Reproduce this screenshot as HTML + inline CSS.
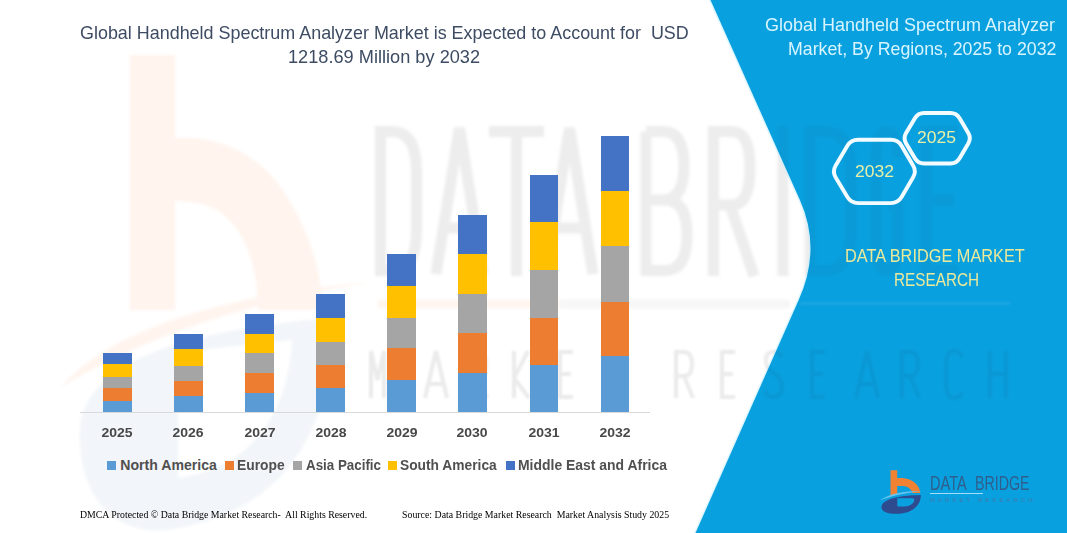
<!DOCTYPE html>
<html><head><meta charset="utf-8">
<style>
html,body{margin:0;padding:0;}
body{width:1067px;height:533px;overflow:hidden;background:#fff;position:relative;font-family:"Liberation Sans",sans-serif;}
.t{position:absolute;white-space:nowrap;line-height:1;transform-origin:0 0;}
.bar{position:absolute;width:28.6px;}
.na{background:#5B9BD5}.eu{background:#ED7D31}.ap{background:#A5A5A5}.sa{background:#FFC000}.me{background:#4472C4}
.yr{position:absolute;width:60px;text-align:center;top:426.2px;font-weight:bold;font-size:13.6px;color:#484848;line-height:1;white-space:nowrap;transform:scaleX(1.03);}
.lg{position:absolute;font-weight:bold;font-size:14.1px;color:#505050;line-height:1;white-space:nowrap;transform-origin:0 0;top:458.1px;}
.sq{position:absolute;width:8.6px;height:8.6px;top:461.1px;}
.ft{position:absolute;font-family:"Liberation Serif",serif;font-size:9.6px;color:#000;line-height:1;white-space:nowrap;transform-origin:0 0;}
</style></head>
<body>
<!-- watermark -->
<svg width="1067" height="533" style="position:absolute;left:0;top:0" viewBox="0 0 1067 533">
  <defs><filter id="bl" filterUnits="userSpaceOnUse" x="0" y="0" width="1067" height="533"><feGaussianBlur stdDeviation="1.8"/></filter><filter id="bl2" filterUnits="userSpaceOnUse" x="0" y="0" width="1067" height="533"><feGaussianBlur stdDeviation="1"/></filter></defs>
  <g fill="#FFF4EE" filter="url(#bl)">
    <path d="M60 388 C110 330 220 295 372 282 C230 305 130 345 60 388 Z"/>
    <path d="M130 55 H175 V138 C215 136 262 150 292 205 C312 240 322 275 322 310 H258 C258 260 240 215 205 205 C195 202 185 201 175 201 V310 H130 Z"/>
  </g>
  <g fill="#F2F5F9" filter="url(#bl)">
    <path fill-rule="evenodd" d="M80 430 C84 360 190 330 330 318 C336 420 290 515 165 530 C110 535 77 490 80 430 Z M178 352 L292 340 C288 420 245 470 178 478 Z"/>
  </g>
  <path d="M378 304 H560" stroke="#FFF6F0" stroke-width="9" filter="url(#bl)"/><path d="M560 304 H790" stroke="#F7F7F8" stroke-width="9" filter="url(#bl)"/>
  <g fill="none" stroke="#C8C8C8" stroke-opacity="0.16" stroke-width="11" filter="url(#bl)">
    <path d="M380.5 131.5 V270.5 H392 Q416.5 270.5 416.5 230 V172 Q416.5 131.5 392 131.5 Z"/>
    <path d="M436 274 L459.5 128 L483 274 M443 228 H476"/>
    <path d="M489 131.5 H544 M516.5 131.5 V276"/>
    <path d="M546 274 L569.5 128 L593 274 M553 228 H586"/>
    <path d="M646 131.5 V270.5 H665 Q687 270.5 687 235 Q687 200 665 200 H646 M663 200 Q684 200 684 165.75 Q684 131.5 663 131.5 H646"/>
    <path d="M713.5 276 V131.5 H732 Q750 131.5 750 168 Q750 205 732 205 H713.5 M730 205 L754 276"/>
    <path d="M783 126 V276"/>
    <path d="M810 131.5 V270.5 H826 Q851 270.5 851 230 V172 Q851 131.5 826 131.5 Z"/>
    <path d="M898 158 Q898 131.5 887 131.5 Q876 131.5 876 160 V242 Q876 270.5 887 270.5 Q898 270.5 898 242 V205 H888"/>
    <path d="M958 131.5 H926 V270.5 H958 M926 200 H954"/>
  </g>
  <g fill="none" stroke="#C8C8C8" stroke-opacity="0.13" stroke-width="4" filter="url(#bl2)">
    <path d="M371 398 V351 L377.5 380 L384 351 V398"/>
    <path d="M425 398 L436 351 L447 398 M429 384 H443"/>
    <path d="M470 398 V352 H478 Q486 352 486 364 Q486 376 478 376 H470 M478 376 L487 398"/>
    <path d="M514 351 V398 M528 351 L514 378 L529 398"/>
    <path d="M573 352 H560 V397 H573 M560 374 H571"/>
    <path d="M603 352 H627 M615 352 V398"/>
    <path d="M676 398 V352 H684 Q692 352 692 364 Q692 376 684 376 H676 M684 376 L693 398"/>
    <path d="M735 352 H722 V397 H735 M722 374 H733"/>
    <path d="M782 357 Q778 351 772 352 Q765 353 766 362 Q767 370 775 374 Q783 379 782 388 Q781 397 773 397 Q767 397 765 391"/>
    <path d="M825 352 H812 V397 H825 M812 374 H823"/>
    <path d="M856 398 L867 351 L878 398 M860 384 H874"/>
    <path d="M902 398 V352 H910 Q918 352 918 364 Q918 376 910 376 H902 M910 376 L919 398"/>
    <path d="M962 357 Q960 351 954 351 Q946 351 946 365 V384 Q946 398 954 398 Q960 398 962 392"/>
    <path d="M990 351 V398 M1006 351 V398 M990 374 H1006"/>
  </g>
</svg>
<!-- blue panel -->
<svg width="1067" height="533" style="position:absolute;left:0;top:0" viewBox="0 0 1067 533">
  <path d="M710.5 0 L1067 0 L1067 533 L695.5 533 L798.7 300 Q821.7 248.8 799.9 200 Z" fill="none" stroke="#DDF6FF" stroke-width="3"/>
  <path d="M710.5 0 L1067 0 L1067 533 L695.5 533 L798.7 300 Q821.7 248.8 799.9 200 Z" fill="#09A0DF"/>
</svg>



<!-- watermark over blue -->
<svg width="1067" height="533" style="position:absolute;left:0;top:0" viewBox="0 0 1067 533">
  <path d="M800 303.5 H1010" stroke="#FFFFFF" stroke-opacity="0.07" stroke-width="3" filter="url(#bl2)"/>
  <g fill="none" stroke="#000000" stroke-opacity="0.035" stroke-width="11" filter="url(#bl)">
    <path d="M380.5 131.5 V270.5 H392 Q416.5 270.5 416.5 230 V172 Q416.5 131.5 392 131.5 Z"/>
    <path d="M436 274 L459.5 128 L483 274 M443 228 H476"/>
    <path d="M489 131.5 H544 M516.5 131.5 V276"/>
    <path d="M546 274 L569.5 128 L593 274 M553 228 H586"/>
    <path d="M646 131.5 V270.5 H665 Q687 270.5 687 235 Q687 200 665 200 H646 M663 200 Q684 200 684 165.75 Q684 131.5 663 131.5 H646"/>
    <path d="M713.5 276 V131.5 H732 Q750 131.5 750 168 Q750 205 732 205 H713.5 M730 205 L754 276"/>
    <path d="M783 126 V276"/>
    <path d="M810 131.5 V270.5 H826 Q851 270.5 851 230 V172 Q851 131.5 826 131.5 Z"/>
    <path d="M898 158 Q898 131.5 887 131.5 Q876 131.5 876 160 V242 Q876 270.5 887 270.5 Q898 270.5 898 242 V205 H888"/>
    <path d="M958 131.5 H926 V270.5 H958 M926 200 H954"/>
  </g>
  <g fill="none" stroke="#000000" stroke-opacity="0.05" stroke-width="4" filter="url(#bl2)">
    <path d="M371 398 V351 L377.5 380 L384 351 V398"/>
    <path d="M425 398 L436 351 L447 398 M429 384 H443"/>
    <path d="M470 398 V352 H478 Q486 352 486 364 Q486 376 478 376 H470 M478 376 L487 398"/>
    <path d="M514 351 V398 M528 351 L514 378 L529 398"/>
    <path d="M573 352 H560 V397 H573 M560 374 H571"/>
    <path d="M603 352 H627 M615 352 V398"/>
    <path d="M676 398 V352 H684 Q692 352 692 364 Q692 376 684 376 H676 M684 376 L693 398"/>
    <path d="M735 352 H722 V397 H735 M722 374 H733"/>
    <path d="M782 357 Q778 351 772 352 Q765 353 766 362 Q767 370 775 374 Q783 379 782 388 Q781 397 773 397 Q767 397 765 391"/>
    <path d="M825 352 H812 V397 H825 M812 374 H823"/>
    <path d="M856 398 L867 351 L878 398 M860 384 H874"/>
    <path d="M902 398 V352 H910 Q918 352 918 364 Q918 376 910 376 H902 M910 376 L919 398"/>
    <path d="M962 357 Q960 351 954 351 Q946 351 946 365 V384 Q946 398 954 398 Q960 398 962 392"/>
    <path d="M990 351 V398 M1006 351 V398 M990 374 H1006"/>
  </g>
</svg>

<!-- title -->
<div class="t" id="t1" style="left:80px;top:24.2px;font-size:18.6px;color:#3D4C63;transform:scaleX(0.964)">Global Handheld Spectrum Analyzer Market is Expected to Account for&nbsp; USD</div>
<div class="t" id="t2" style="left:288px;top:47.7px;font-size:18.6px;color:#3D4C63;transform:scaleX(0.978)">1218.69 Million by 2032</div>

<!-- axis -->
<div style="position:absolute;left:80px;top:411.5px;width:570px;height:1px;background:#D9D9D9"></div>

<!-- bars -->
<!--BARS-->
<div class="bar" style="left:103.0px;top:353.1px;height:58.5px;background:linear-gradient(to bottom,#4472C4 0.0px 11.3px,#FFC000 11.3px 23.8px,#A5A5A5 23.8px 35.1px,#ED7D31 35.1px 47.5px,#5B9BD5 47.5px 58.5px)"></div>
<div class="yr" style="left:87.3px;">2025</div>
<div class="bar" style="left:174.1px;top:334.0px;height:77.6px;background:linear-gradient(to bottom,#4472C4 0.0px 14.8px,#FFC000 14.8px 31.5px,#A5A5A5 31.5px 46.7px,#ED7D31 46.7px 62.4px,#5B9BD5 62.4px 77.6px)"></div>
<div class="yr" style="left:158.4px;">2026</div>
<div class="bar" style="left:245.3px;top:314.0px;height:97.6px;background:linear-gradient(to bottom,#4472C4 0.0px 19.7px,#FFC000 19.7px 39.0px,#A5A5A5 39.0px 59.0px,#ED7D31 59.0px 79.0px,#5B9BD5 79.0px 97.6px)"></div>
<div class="yr" style="left:229.6px;">2027</div>
<div class="bar" style="left:316.3px;top:294.2px;height:117.4px;background:linear-gradient(to bottom,#4472C4 0.0px 23.7px,#FFC000 23.7px 47.5px,#A5A5A5 47.5px 70.7px,#ED7D31 70.7px 94.4px,#5B9BD5 94.4px 117.4px)"></div>
<div class="yr" style="left:300.6px;">2028</div>
<div class="bar" style="left:387.2px;top:254.2px;height:157.4px;background:linear-gradient(to bottom,#4472C4 0.0px 31.9px,#FFC000 31.9px 64.1px,#A5A5A5 64.1px 94.0px,#ED7D31 94.0px 126.5px,#5B9BD5 126.5px 157.4px)"></div>
<div class="yr" style="left:371.5px;">2029</div>
<div class="bar" style="left:458.0px;top:215.2px;height:196.4px;background:linear-gradient(to bottom,#4472C4 0.0px 38.6px,#FFC000 38.6px 78.8px,#A5A5A5 78.8px 118.4px,#ED7D31 118.4px 157.8px,#5B9BD5 157.8px 196.4px)"></div>
<div class="yr" style="left:442.3px;">2030</div>
<div class="bar" style="left:529.8px;top:175.1px;height:236.5px;background:linear-gradient(to bottom,#4472C4 0.0px 47.2px,#FFC000 47.2px 94.7px,#A5A5A5 94.7px 142.9px,#ED7D31 142.9px 190.0px,#5B9BD5 190.0px 236.5px)"></div>
<div class="yr" style="left:514.1px;">2031</div>
<div class="bar" style="left:600.6px;top:135.8px;height:275.8px;background:linear-gradient(to bottom,#4472C4 0.0px 55.0px,#FFC000 55.0px 110.2px,#A5A5A5 110.2px 166.2px,#ED7D31 166.2px 220.3px,#5B9BD5 220.3px 275.8px)"></div>
<div class="yr" style="left:584.9px;">2032</div>

<!--/BARS-->


<!-- right panel text -->
<div class="t" id="r1" style="left:765px;top:15.9px;font-size:18.2px;color:#D8F5FF;transform:scaleX(0.989)">Global Handheld Spectrum Analyzer</div>
<div class="t" id="r2" style="left:788px;top:39.9px;font-size:18.2px;color:#D8F5FF;transform:scaleX(0.976)">Market, By Regions, 2025 to 2032</div>

<div class="t" id="d1" style="left:845px;top:246.5px;font-size:18.2px;color:#EBE99A;transform:scaleX(0.897)">DATA BRIDGE MARKET</div>
<div class="t" id="d2" style="left:894px;top:270.5px;font-size:18.2px;color:#EBE99A;transform:scaleX(0.842)">RESEARCH</div>

<!-- legend -->
<div class="sq" style="left:107.2px;background:#5B9BD5"></div>
<div class="lg" id="l1" style="left:120.3px">North America</div>
<div class="sq" style="left:225.2px;background:#ED7D31"></div>
<div class="lg" id="l2" style="left:237.0px;transform:scaleX(0.981)">Europe</div>
<div class="sq" style="left:293.2px;background:#A5A5A5"></div>
<div class="lg" id="l3" style="left:305.8px;transform:scaleX(0.948)">Asia Pacific</div>
<div class="sq" style="left:388.2px;background:#FFC000"></div>
<div class="lg" id="l4" style="left:399.8px;transform:scaleX(0.978)">South America</div>
<div class="sq" style="left:506px;background:#4472C4"></div>
<div class="lg" id="l5" style="left:518px;transform:scaleX(0.989)">Middle East and Africa</div>

<!-- footer -->
<div class="ft" id="f1" style="left:80px;top:509.7px;transform:scaleX(1.022)">DMCA Protected &copy; Data Bridge Market Research-&nbsp; All Rights Reserved.</div>
<div class="ft" id="f2" style="left:402px;top:509.7px;transform:scaleX(1.026)">Source: Data Bridge Market Research&nbsp; Market Analysis Study 2025</div>

<!-- hexagons -->
<svg width="1067" height="533" style="position:absolute;left:0;top:0" viewBox="0 0 1067 533">
  <path d="M835.7 177.5 Q832.1 171.5 835.7 165.5 L847.4 145.8 Q851.0 139.8 858.0 139.8 L891.0 139.8 Q898.0 139.8 901.5 145.8 L913.1 165.5 Q916.6 171.5 913.0 177.5 L901.6 197.1 Q898.0 203.1 891.0 203.1 L858.0 203.1 Q851.0 203.1 847.4 197.1 Z" fill="none" stroke="#F2FBFF" stroke-width="3.9"/>
  <path d="M906.1 143.5 Q903.0 138.3 906.1 133.1 L914.9 118.3 Q918.0 113.1 924.0 113.1 L950.5 113.1 Q956.5 113.1 959.6 118.3 L968.3 133.1 Q971.4 138.3 968.3 143.5 L959.6 158.3 Q956.5 163.5 950.5 163.5 L924.0 163.5 Q918.0 163.5 914.9 158.3 Z" fill="none" stroke="#F2FBFF" stroke-width="4"/>
</svg>
<div class="t" id="h1" style="left:855px;top:162.7px;font-size:17.2px;color:#E9F0A8;transform:scaleX(1.02)">2032</div>
<div class="t" id="h2" style="left:916.5px;top:128.9px;font-size:17.2px;color:#E9F0A8;transform:scaleX(1.02)">2025</div>

<!-- logo -->
<svg width="1067" height="533" style="position:absolute;left:0;top:0" viewBox="0 0 1067 533">
  <path d="M890.5 470.2 H897.2 V478.2 C906 477.5 913 480 917 485 C919 487.5 920 490 920.2 493 H912.3 C911.6 489 908 486.4 903 486 C901 485.9 899 485.9 897.2 486 V495 H890.5 Z" fill="#F28233"/>
  <path d="M879.5 500.5 C889 494 903 490.5 922 491 C905 493 891 496 879.5 500.5 Z" fill="#6CC4EE"/>
  <path fill-rule="evenodd" d="M881.5 507 C882 500 896 495.5 920.8 495 C921 505 913 513.5 897 513.8 C887 514 881.2 511.5 881.5 507 Z M897.3 498.3 H912.5 C914 498.3 914.6 499.5 914.1 501 C912.6 505 908 506.6 903 506.6 H897.3 Z" fill="#2D4B8E"/>
</svg>
<div class="t" id="lg1" style="left:929.6px;top:474.1px;font-size:19.5px;color:#2E5F8E;transform:scaleX(0.75)">DATA</div>
<div class="t" id="lg1b" style="left:975px;top:474.1px;font-size:19.5px;color:#2E5F8E;transform:scaleX(0.73)">BRIDGE</div>
<div style="position:absolute;left:929.8px;top:492.8px;width:53.4px;height:1px;background:#A6DDF4"></div>
<div class="t" id="lg2" style="left:930px;top:496.8px;font-size:6px;color:#3F7AB0;letter-spacing:3.05px">MARKET RESEARCH</div>

</body></html>
